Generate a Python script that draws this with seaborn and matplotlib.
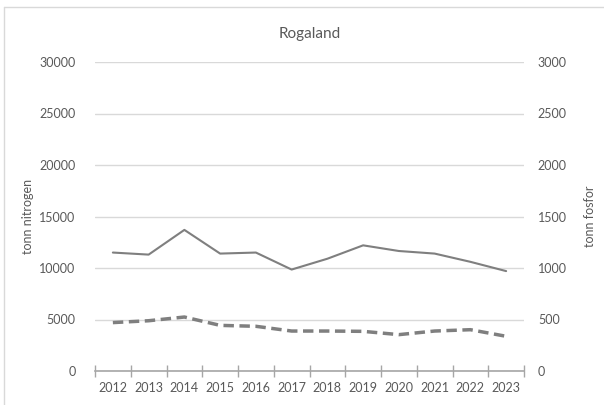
import matplotlib
matplotlib.use('Agg')
import matplotlib.pyplot as plt
import seaborn as sns
import pandas as pd
import numpy as np
from matplotlib.lines import Line2D
from matplotlib.ticker import FixedLocator

years = ['2012', '2013', '2014', '2015', '2016', '2017',
         '2018', '2019', '2020', '2021', '2022', '2023']
nitrogen = [11500, 11300, 13700, 11400, 11500, 9850,
            10900, 12200, 11650, 11400, 10600, 9700]
fosfor = [470, 488, 524, 443, 434, 388,
          388, 385, 353, 388, 401, 337]

sns.set_style('white')
plt.rcParams['font.family'] = ['Lato', 'DejaVu Sans']

txt = '#595959'
line_col = '#7f7f7f'
grid_col = '#d9d9d9'

df = pd.DataFrame({'year': years, 'nitrogen': nitrogen, 'fosfor': fosfor})

fig = plt.figure(figsize=(6.04, 4.05), dpi=100)
ax = fig.add_axes([95 / 604, 1 - 371 / 405, (524 - 95) / 604, (371 - 62) / 405])
ax2 = ax.twinx()

sns.lineplot(data=df, x='year', y='nitrogen', ax=ax, color=line_col, linewidth=1.5)
sns.lineplot(data=df, x='year', y='fosfor', ax=ax2, color=line_col, linewidth=2.5,
             linestyle=(0, (3, 1.6)))

ax.set_xlim(-0.5, len(years) - 0.5)
ax.set_ylim(0, 30000)
ax2.set_ylim(0, 3000)
ax.set_yticks(np.arange(0, 30001, 5000))
ax2.set_yticks(np.arange(0, 3001, 500))

# gridlines from left axis
ax.yaxis.grid(True, color=grid_col, linewidth=1)
ax.set_axisbelow(True)
ax2.grid(False)

for a in (ax, ax2):
    for s in a.spines.values():
        s.set_visible(False)
ax.spines['bottom'].set_visible(True)
ax.spines['bottom'].set_color('#a6a6a6')
ax.spines['bottom'].set_linewidth(1.2)

# category boundaries as crossing ticks
ax.xaxis.set_minor_locator(FixedLocator(np.arange(-0.5, len(years), 1.0)))
ax.tick_params(axis='x', which='minor', direction='inout', length=8, width=1, color='#a6a6a6', bottom=True)
ax.tick_params(axis='x', which='major', length=0, pad=8, labelsize=9, labelcolor=txt)
ax.tick_params(axis='y', length=0, pad=14, labelsize=9, labelcolor=txt)
ax2.tick_params(axis='y', length=0, pad=10, labelsize=9, labelcolor=txt)

ax.set_xlabel('')
ax.set_ylabel('tonn nitrogen', color=txt, fontsize=9, labelpad=4)
ax2.set_ylabel('tonn fosfor', color=txt, fontsize=9, labelpad=12)
ax.set_title('Rogaland', color=txt, fontsize=11, pad=17)

# outer chart frame (partly cropped)
fig.add_artist(Line2D([4 / 604, 1.0], [1 - 7 / 405, 1 - 7 / 405], color='#d9d9d9', linewidth=1))
fig.add_artist(Line2D([4 / 604, 4 / 604], [0.0, 1 - 7 / 405], color='#d9d9d9', linewidth=1))

fig.savefig('out.png', dpi=100)
